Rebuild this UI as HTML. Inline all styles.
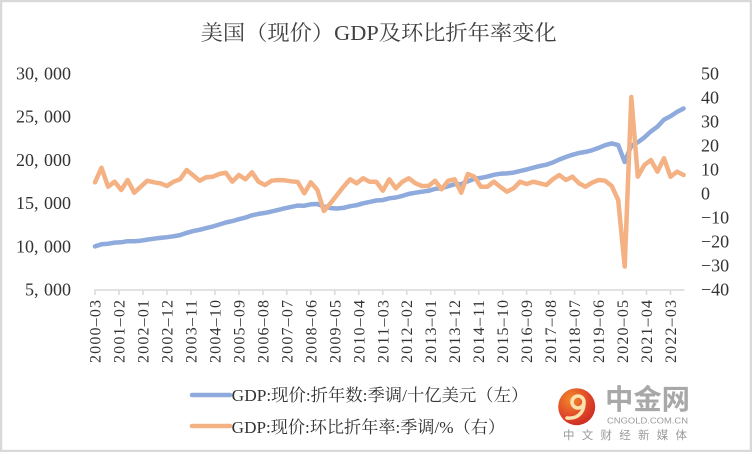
<!DOCTYPE html>
<html>
<head>
<meta charset="utf-8">
<style>
  html,body{margin:0;padding:0;background:#fff;}
  svg{display:block;}
  .ser{font-family:"Liberation Serif","Noto Serif CJK SC",serif;}
</style>
</head>
<body>
<svg width="752" height="452" viewBox="0 0 752 452" xmlns="http://www.w3.org/2000/svg">
  <rect x="0" y="0" width="752" height="452" fill="#fff"/>
  <rect x="1" y="1" width="750" height="450" fill="none" stroke="#d9d9d9" stroke-width="2.5"/>

  <!-- Title -->
  <text class="ser" x="200.7" y="40" font-size="21" fill="#404040" textLength="356" lengthAdjust="spacingAndGlyphs">美国（现价）GDP及环比折年率变化</text>

  <!-- Left axis labels -->
  <g class="ser" font-size="18" fill="#333" text-anchor="end">
    <text x="71" y="79.3">30,<tspan dx="5.5">000</tspan></text>
    <text x="71" y="122.6">25,<tspan dx="5.5">000</tspan></text>
    <text x="71" y="165.9">20,<tspan dx="5.5">000</tspan></text>
    <text x="71" y="209.1">15,<tspan dx="5.5">000</tspan></text>
    <text x="71" y="252.4">10,<tspan dx="5.5">000</tspan></text>
    <text x="71" y="295.7">5,<tspan dx="5.5">000</tspan></text>
  </g>

  <!-- Right axis labels -->
  <g class="ser" font-size="18" fill="#333">
    <text x="701" y="79.3">50</text>
    <text x="701" y="103.3">40</text>
    <text x="701" y="127.4">30</text>
    <text x="701" y="151.4">20</text>
    <text x="701" y="175.5">10</text>
    <text x="701" y="199.5">0</text>
    <text x="701" y="223.5">−10</text>
    <text x="701" y="247.6">−20</text>
    <text x="701" y="271.6">−30</text>
    <text x="701" y="295.7">−40</text>
  </g>

  <!-- X axis -->
  <line x1="94.5" y1="290" x2="684.5" y2="290" stroke="#d9d9d9" stroke-width="1.5"/>
  <g stroke="#d9d9d9" stroke-width="1.5">
    <line x1="95" y1="290" x2="95" y2="295"/>
    <line x1="119" y1="290" x2="119" y2="295"/>
    <line x1="143" y1="290" x2="143" y2="295"/>
    <line x1="166.9" y1="290" x2="166.9" y2="295"/>
    <line x1="190.9" y1="290" x2="190.9" y2="295"/>
    <line x1="214.9" y1="290" x2="214.9" y2="295"/>
    <line x1="238.9" y1="290" x2="238.9" y2="295"/>
    <line x1="262.9" y1="290" x2="262.9" y2="295"/>
    <line x1="286.8" y1="290" x2="286.8" y2="295"/>
    <line x1="310.8" y1="290" x2="310.8" y2="295"/>
    <line x1="334.8" y1="290" x2="334.8" y2="295"/>
    <line x1="358.8" y1="290" x2="358.8" y2="295"/>
    <line x1="382.8" y1="290" x2="382.8" y2="295"/>
    <line x1="406.7" y1="290" x2="406.7" y2="295"/>
    <line x1="430.7" y1="290" x2="430.7" y2="295"/>
    <line x1="454.7" y1="290" x2="454.7" y2="295"/>
    <line x1="478.7" y1="290" x2="478.7" y2="295"/>
    <line x1="502.7" y1="290" x2="502.7" y2="295"/>
    <line x1="526.6" y1="290" x2="526.6" y2="295"/>
    <line x1="550.6" y1="290" x2="550.6" y2="295"/>
    <line x1="574.6" y1="290" x2="574.6" y2="295"/>
    <line x1="598.6" y1="290" x2="598.6" y2="295"/>
    <line x1="622.6" y1="290" x2="622.6" y2="295"/>
    <line x1="646.5" y1="290" x2="646.5" y2="295"/>
    <line x1="670.5" y1="290" x2="670.5" y2="295"/>
  </g>

  <g class="ser" font-size="16" fill="#333" text-anchor="end">
    <text transform="translate(95,300) rotate(-90)" dy="5.5" textLength="63" lengthAdjust="spacing">2000–03</text>
    <text transform="translate(119,300) rotate(-90)" dy="5.5" textLength="63" lengthAdjust="spacing">2001–02</text>
    <text transform="translate(143,300) rotate(-90)" dy="5.5" textLength="63" lengthAdjust="spacing">2002–01</text>
    <text transform="translate(166.9,300) rotate(-90)" dy="5.5" textLength="63" lengthAdjust="spacing">2002–12</text>
    <text transform="translate(190.9,300) rotate(-90)" dy="5.5" textLength="63" lengthAdjust="spacing">2003–11</text>
    <text transform="translate(214.9,300) rotate(-90)" dy="5.5" textLength="63" lengthAdjust="spacing">2004–10</text>
    <text transform="translate(238.9,300) rotate(-90)" dy="5.5" textLength="63" lengthAdjust="spacing">2005–09</text>
    <text transform="translate(262.9,300) rotate(-90)" dy="5.5" textLength="63" lengthAdjust="spacing">2006–08</text>
    <text transform="translate(286.8,300) rotate(-90)" dy="5.5" textLength="63" lengthAdjust="spacing">2007–07</text>
    <text transform="translate(310.8,300) rotate(-90)" dy="5.5" textLength="63" lengthAdjust="spacing">2008–06</text>
    <text transform="translate(334.8,300) rotate(-90)" dy="5.5" textLength="63" lengthAdjust="spacing">2009–05</text>
    <text transform="translate(358.8,300) rotate(-90)" dy="5.5" textLength="63" lengthAdjust="spacing">2010–04</text>
    <text transform="translate(382.8,300) rotate(-90)" dy="5.5" textLength="63" lengthAdjust="spacing">2011–03</text>
    <text transform="translate(406.7,300) rotate(-90)" dy="5.5" textLength="63" lengthAdjust="spacing">2012–02</text>
    <text transform="translate(430.7,300) rotate(-90)" dy="5.5" textLength="63" lengthAdjust="spacing">2013–01</text>
    <text transform="translate(454.7,300) rotate(-90)" dy="5.5" textLength="63" lengthAdjust="spacing">2013–12</text>
    <text transform="translate(478.7,300) rotate(-90)" dy="5.5" textLength="63" lengthAdjust="spacing">2014–11</text>
    <text transform="translate(502.7,300) rotate(-90)" dy="5.5" textLength="63" lengthAdjust="spacing">2015–10</text>
    <text transform="translate(526.6,300) rotate(-90)" dy="5.5" textLength="63" lengthAdjust="spacing">2016–09</text>
    <text transform="translate(550.6,300) rotate(-90)" dy="5.5" textLength="63" lengthAdjust="spacing">2017–08</text>
    <text transform="translate(574.6,300) rotate(-90)" dy="5.5" textLength="63" lengthAdjust="spacing">2018–07</text>
    <text transform="translate(598.6,300) rotate(-90)" dy="5.5" textLength="63" lengthAdjust="spacing">2019–06</text>
    <text transform="translate(622.6,300) rotate(-90)" dy="5.5" textLength="63" lengthAdjust="spacing">2020–05</text>
    <text transform="translate(646.5,300) rotate(-90)" dy="5.5" textLength="63" lengthAdjust="spacing">2021–04</text>
    <text transform="translate(670.5,300) rotate(-90)" dy="5.5" textLength="63" lengthAdjust="spacing">2022–03</text>
  </g>

  <!-- Blue series (GDP level, left axis) -->
  <polyline fill="none" stroke="#8FAADC" stroke-width="4.5" stroke-linejoin="round" stroke-linecap="round"
    points="95.0,246.4 101.5,244.3 108.1,243.7 114.6,242.6 121.2,242.3 127.7,241.2 134.2,241.2 140.8,240.7 147.3,239.6 153.9,238.7 160.4,237.9 166.9,237.2 173.5,236.3 180.0,235.1 186.6,232.9 193.1,231.1 199.6,229.8 206.2,228.1 212.7,226.5 219.3,224.5 225.8,222.5 232.3,221.1 238.9,219.2 245.4,217.6 252.0,215.3 258.5,213.9 265.0,212.9 271.6,211.5 278.1,209.9 284.7,208.3 291.2,206.9 297.7,205.6 304.3,205.7 310.8,204.3 317.4,204.0 323.9,206.5 330.4,208.1 337.0,208.5 343.5,207.9 350.1,206.2 356.6,205.2 363.1,203.3 369.7,201.9 376.2,200.5 382.8,200.1 389.3,198.3 395.8,197.5 402.4,195.9 408.9,193.9 415.5,192.7 422.0,191.7 428.5,190.8 435.1,188.9 441.6,188.2 448.2,186.2 454.7,184.2 461.2,184.1 467.8,181.3 474.3,178.9 480.9,177.9 487.4,176.6 493.9,174.8 500.5,173.7 507.0,173.4 513.6,172.6 520.1,171.0 526.6,169.5 533.2,167.7 539.7,166.1 546.3,164.7 552.8,162.5 559.3,159.5 565.9,157.0 572.4,154.8 579.0,153.0 585.5,151.9 592.0,150.3 598.6,147.9 605.1,145.2 611.7,143.4 618.2,145.1 624.7,162.0 631.3,145.6 637.8,142.3 644.4,137.4 650.9,131.4 657.4,126.7 664.0,119.6 670.5,116.3 677.1,111.9 683.6,108.5"/>

  <!-- Orange series (annualized QoQ %, right axis) -->
  <polyline fill="none" stroke="#F4B183" stroke-width="4.5" stroke-linejoin="round" stroke-linecap="round"
    points="95.0,182.3 101.5,167.7 108.1,186.7 114.6,181.7 121.2,190 127.7,180 134.2,192.7 140.8,186.7 147.3,180.7 153.9,182.3 160.4,183.3 166.9,186 173.5,181.7 180.0,179.3 186.6,170 193.1,175.3 199.6,180.7 206.2,177.3 212.7,176.7 219.3,174 225.8,172.7 232.3,181.7 238.9,175 245.4,179.3 252.0,172.3 258.5,181.7 265.0,185 271.6,180.7 278.1,180 284.7,180.3 291.2,181.3 297.7,182 304.3,193.3 310.8,182.3 317.4,190 323.9,211 330.4,203.3 337.0,195 343.5,186.7 350.1,179.3 356.6,183.3 363.1,178.3 369.7,181.7 376.2,181.7 382.8,190.7 389.3,179.3 395.8,188.3 402.4,181.7 408.9,178.3 415.5,183.3 422.0,186 428.5,186 435.1,180.7 441.6,189.3 448.2,180.7 454.7,179.3 461.2,192.7 467.8,174 474.3,176.7 480.9,186.7 487.4,186.7 493.9,181.7 500.5,187 507.0,191.7 513.6,188.3 520.1,181.7 526.6,184 533.2,181.7 539.7,183.3 546.3,185 552.8,179.3 559.3,175 565.9,180 572.4,176.7 579.0,183.3 585.5,186.7 592.0,182.7 598.6,180 605.1,180.7 611.7,186 618.2,200 624.7,266.5 631.3,97 637.8,176.7 644.4,165 650.9,160 657.4,171.7 664.0,158.3 670.5,176.7 677.1,171.7 683.6,175"/>

  <!-- Legend -->
  <line x1="192" y1="395" x2="230" y2="395" stroke="#8FAADC" stroke-width="4.5" stroke-linecap="round"/>
  <line x1="192" y1="426" x2="230" y2="426" stroke="#F4B183" stroke-width="4.5" stroke-linecap="round"/>
  <text class="ser" x="231.7" y="401" font-size="17" fill="#333" textLength="296.6" lengthAdjust="spacingAndGlyphs">GDP:现价:折年数:季调/十亿美元（左）</text>
  <text class="ser" x="231.7" y="433" font-size="17" fill="#333" textLength="273.3" lengthAdjust="spacingAndGlyphs">GDP:现价:环比折年率:季调/%（右）</text>

  <!-- Watermark -->
  <defs>
    <radialGradient id="lg" cx="0.35" cy="0.3" r="0.8">
      <stop offset="0" stop-color="#f28a2a"/>
      <stop offset="0.6" stop-color="#e0452a"/>
      <stop offset="1" stop-color="#c8281f"/>
    </radialGradient>
  </defs>
  <circle cx="576.7" cy="406.7" r="18.5" fill="url(#lg)"/>
  <circle cx="578" cy="402" r="6" fill="none" stroke="#fbe3b0" stroke-width="3.5"/>
  <path d="M584 403 C584 414 576 419 567 418" fill="none" stroke="#fbe3b0" stroke-width="3.5" stroke-linecap="round"/>
  <text x="605" y="409" font-family="'Noto Sans CJK SC','WenQuanYi Zen Hei',sans-serif" font-weight="bold" font-size="28" fill="#a8a8a8" textLength="85" lengthAdjust="spacingAndGlyphs">中金网</text>
  <text x="607" y="423.5" font-family="'Liberation Sans',sans-serif" font-size="8.5" fill="#9a9a9a" textLength="81" lengthAdjust="spacingAndGlyphs">CNGOLD.COM.CN</text>
  <text x="563" y="439" font-family="'Liberation Sans','Noto Sans CJK SC',sans-serif" font-size="11.5" fill="#9a9a9a" textLength="124" lengthAdjust="spacing">中文财经新媒体</text>
</svg>
</body>
</html>
